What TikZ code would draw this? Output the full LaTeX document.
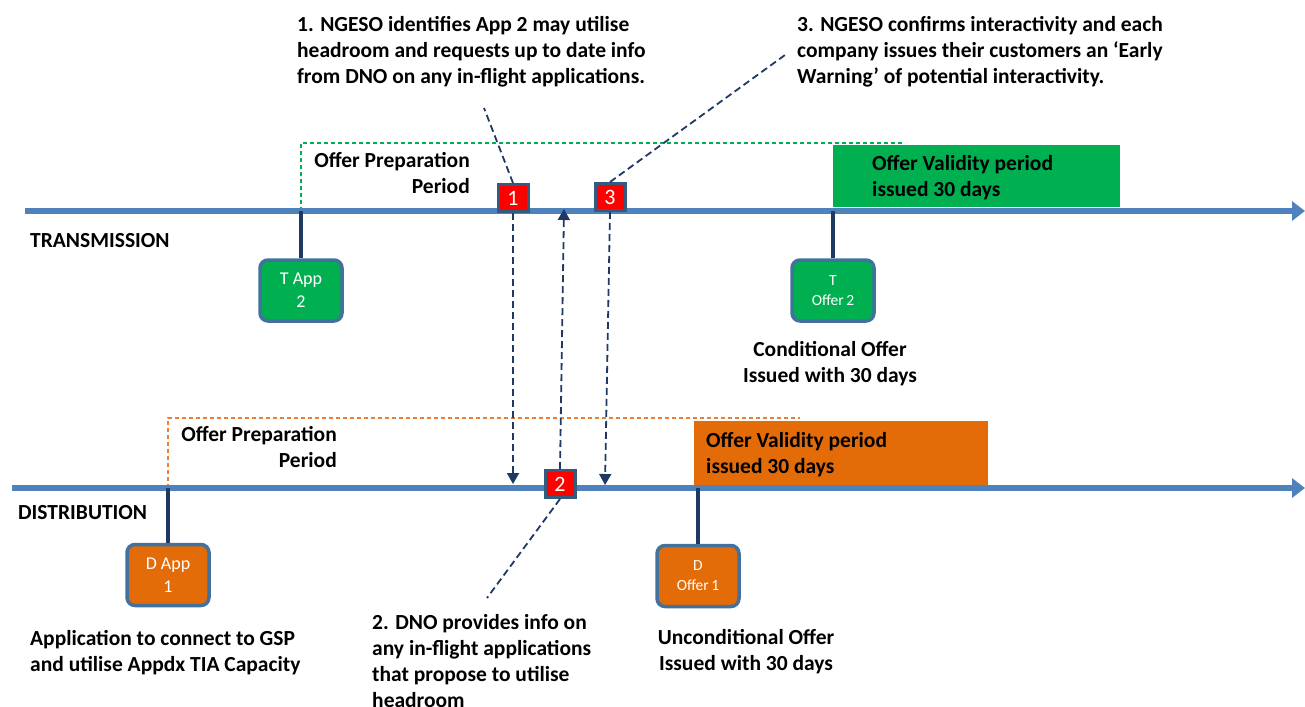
\documentclass[tikz,border=0pt]{standalone}
\usepackage{fontspec}
\setmainfont{Carlito}
\usetikzlibrary{arrows.meta}
\definecolor{lineblue}{HTML}{4F81BD}
\definecolor{navy}{HTML}{1F3864}
\definecolor{boxborder}{HTML}{41719C}
\definecolor{tgreen}{HTML}{00B050}
\definecolor{dorange}{HTML}{E36C09}
\definecolor{dashorange}{HTML}{ED7D31}
\begin{document}
\begin{tikzpicture}[x=1pt,y=-1pt,
  lbl/.style={font=\fontsize{21.5}{26}\selectfont\bfseries, inner sep=0pt, text=black},
  appbox/.style={draw=boxborder, line width=3.5pt, rounded corners=8pt, minimum width=82pt, minimum height=61pt, text=white, align=center, inner sep=1pt},
  marker/.style={fill=red, draw=boxborder!80!black, line width=3pt, minimum width=30pt, minimum height=27pt, text=white, font=\fontsize{22}{22}\selectfont, inner sep=0pt},
  mainline/.style={draw=lineblue, line width=5.5pt, -{Triangle[width=19pt,length=13pt]}},
  stem/.style={draw=navy, line width=4pt},
  callout/.style={draw=navy, line width=1.8pt, dash pattern=on 7pt off 4pt},
  darrow/.style={callout, -{Triangle[width=12pt,length=11pt]}, shorten >=0pt},
  period/.style={line width=1.4pt, dash pattern=on 4pt off 3pt}
]
\useasboundingbox (0,0) rectangle (1305,706);

% coordinates on lines
\coordinate (tstart) at (25,211);
\coordinate (tend) at (1305,211);
\coordinate (dstart) at (12,488);
\coordinate (dend) at (1305,488);
\coordinate (tA) at (301,211);
\coordinate (tO) at (833,211);
\coordinate (dA) at (168,488);
\coordinate (dO) at (698,488);

% period dashed outlines
\draw[period, draw=tgreen] (tA) -- (301,143) -- (905,143);
\draw[period, draw=dashorange] (dA) -- (168,418) -- (800,418);

% validity boxes
\node[fill=tgreen, minimum width=287pt, minimum height=62pt, inner sep=0pt, anchor=north west] (tval) at (833,145) {};
\node[fill=dorange, minimum width=294pt, minimum height=64pt, inner sep=0pt, anchor=north west] (dval) at (694,421) {};
\node[lbl, anchor=base west, align=left] (tvaltxt) at (872,196) {Offer Validity period\\issued 30 days};
\node[lbl, anchor=base west, align=left] (dvaltxt) at (706,473) {Offer Validity period\\issued 30 days};

% main lines
\draw[mainline] (tstart) -- (tend);
\draw[mainline] (dstart) -- (dend);

\node[lbl, anchor=base west] (tlab) at (30,247) {TRANSMISSION};
\node[lbl, anchor=base west] (dlab) at (18,519) {DISTRIBUTION};

% preparation labels
\node[lbl, anchor=base east, align=right] (tprep) at (470,193) {Offer Preparation\\Period};
\node[lbl, anchor=base east, align=right] (dprep) at (337,467) {Offer Preparation\\Period};

% app boxes
\node[appbox, fill=tgreen, font=\fontsize{18}{23}\selectfont] (tapp) at (301,290.5) {T App\\2};
\node[appbox, fill=tgreen, font=\fontsize{15.5}{20}\selectfont] (toff) at (833,290.5) {T\\Offer\,2};
\node[appbox, fill=dorange, font=\fontsize{18}{23}\selectfont] (dapp) at (168,575) {D App\\1};
\node[appbox, fill=dorange, font=\fontsize{15.5}{20}\selectfont] (doff) at (698,576) {D\\Offer\,1};
\draw[stem] (tA) -- (tapp.north);
\draw[stem] (tO) -- (toff.north);
\draw[stem] (dA) -- (dapp.north);
\draw[stem] (dO) -- (doff.north);

% markers
\node[marker] (m1) at (513,198) {1};
\node[marker] (m3) at (610,197) {3};
\node[marker] (m2) at (560,484) {2};

% dashed arrows between lines
\coordinate (a1end) at (513,484);
\coordinate (a2end) at (564,209);
\coordinate (a3end) at (605,485);
\draw[darrow] (m1.south) -- (a1end);
\draw[darrow] (m2.north) -- (a2end);
\draw[darrow] (m3.south) -- (a3end);

% callouts
\coordinate (c1) at (484,108);
\coordinate (c3) at (785,55);
\coordinate (c2) at (487,598);
\draw[callout] (m1.north) -- (c1);
\draw[callout] (m3.north) -- (c3);
\draw[callout] (m2.south) -- (c2);

% texts
\node[lbl, anchor=base west, align=left] (t1) at (297,84) {1. NGESO identifies App 2 may utilise\\headroom and requests up to date info\\from DNO on any in-flight applications.};
\node[lbl, anchor=base west, align=left] (t3) at (797,84) {3. NGESO confirms interactivity and each\\company issues their customers an ‘Early\\Warning’ of potential interactivity.};
\node[lbl, anchor=base west, align=left] (t2) at (372,707) {2. DNO provides info on\\any in-flight applications\\that propose to utilise\\headroom};
\node[lbl, anchor=base, align=center] (tcond) at (830,382) {Conditional Offer\\Issued with 30 days};
\node[lbl, anchor=base, align=center] (dcond) at (746,670) {Unconditional Offer\\Issued with 30 days};
\node[lbl, anchor=base west, align=left] (dapptxt) at (30,671) {Application to connect to GSP\\and utilise Appdx TIA Capacity};
\end{tikzpicture}
\end{document}
